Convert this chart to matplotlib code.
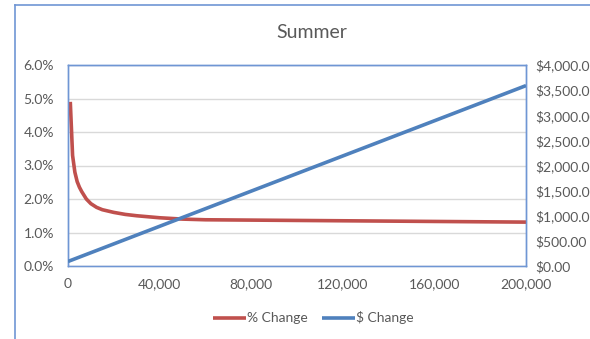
import matplotlib
matplotlib.use('Agg')
import matplotlib.pyplot as plt
from matplotlib.lines import Line2D
from matplotlib.ticker import FuncFormatter

# 数据
pct_income = [1000, 2000, 3000, 4000, 5000, 6000, 8000, 10000, 12500, 15000,
              20000, 25000, 30000, 40000, 50000, 60000, 80000, 100000,
              120000, 140000, 160000, 180000, 200000]
pct_change = [4.90, 3.30, 2.80, 2.52, 2.35, 2.22, 2.00, 1.86, 1.75, 1.68,
              1.60, 1.54, 1.50, 1.44, 1.40, 1.38, 1.37, 1.36,
              1.35, 1.34, 1.33, 1.32, 1.31]
usd_income = [0, 40000, 80000, 120000, 160000, 200000]
usd_change = [90, 790, 1490, 2190, 2890, 3590]

x_ticks = [0, 40000, 80000, 120000, 160000, 200000]
left_ticks = [0, 1, 2, 3, 4, 5, 6]
right_ticks = [0, 500, 1000, 1500, 2000, 2500, 3000, 3500, 4000]

red = '#C0504D'
blue = '#4F81BD'
frame = '#6F96D4'
grey = '#595959'

plt.rcParams['font.family'] = ['Lato', 'DejaVu Sans']

fig = plt.figure(figsize=(5.9, 3.39), dpi=100)
ax = fig.add_axes([68/590, 1-266/339, 458/590, 201/339])
ax2 = ax.twinx()

ax.plot(pct_income, pct_change, color=red, lw=2.6, solid_capstyle='butt',
        label='% Change', zorder=3)
ax2.plot(usd_income, usd_change, color=blue, lw=2.6, solid_capstyle='butt',
         label='$ Change', zorder=3)

ax.set_xlim(0, 200000)
ax.set_ylim(0, 6)
ax2.set_ylim(0, 4000)
ax.set_xticks(x_ticks)
ax.set_yticks(left_ticks)
ax2.set_yticks(right_ticks)
ax.xaxis.set_major_formatter(FuncFormatter(lambda v, p: f'{int(v):,}'))
ax.yaxis.set_major_formatter(FuncFormatter(lambda v, p: f'{v:.1f}%'))
ax2.yaxis.set_major_formatter(FuncFormatter(lambda v, p: f'${v:,.2f}'))

ax.grid(axis='y', color='#D9D9D9', lw=1)
ax.set_axisbelow(True)
for a in (ax, ax2):
    for s in a.spines.values():
        s.set_color(frame)
        s.set_linewidth(1)
ax.spines['bottom'].set_color('#A6B9DA')
ax.tick_params(axis='x', length=0, pad=9, labelsize=10, labelcolor=grey)
ax.tick_params(axis='y', length=0, pad=10, labelsize=10, labelcolor=grey)
ax2.tick_params(axis='y', length=0, pad=7, labelsize=10, labelcolor=grey)

# 标题
fig.text(312/590, 1-33/339, 'Summer', ha='center', va='center',
         fontsize=14, color=grey)

# 图例
h1, l1 = ax.get_legend_handles_labels()
h2, l2 = ax2.get_legend_handles_labels()
fig.legend(h1 + h2, l1 + l2, loc='center', bbox_to_anchor=(313/590, 1-318/339),
           ncol=2, frameon=False, fontsize=10, labelcolor=grey,
           handlelength=2.4, handletextpad=0.05, columnspacing=1.0)

# 外框
fig.add_artist(Line2D([15/590, 15/590], [0, 1-5/339], color=frame, lw=1.2))
fig.add_artist(Line2D([15/590, 1], [1-5/339, 1-5/339], color=frame, lw=1.2))

fig.savefig('out.png', dpi=100)
